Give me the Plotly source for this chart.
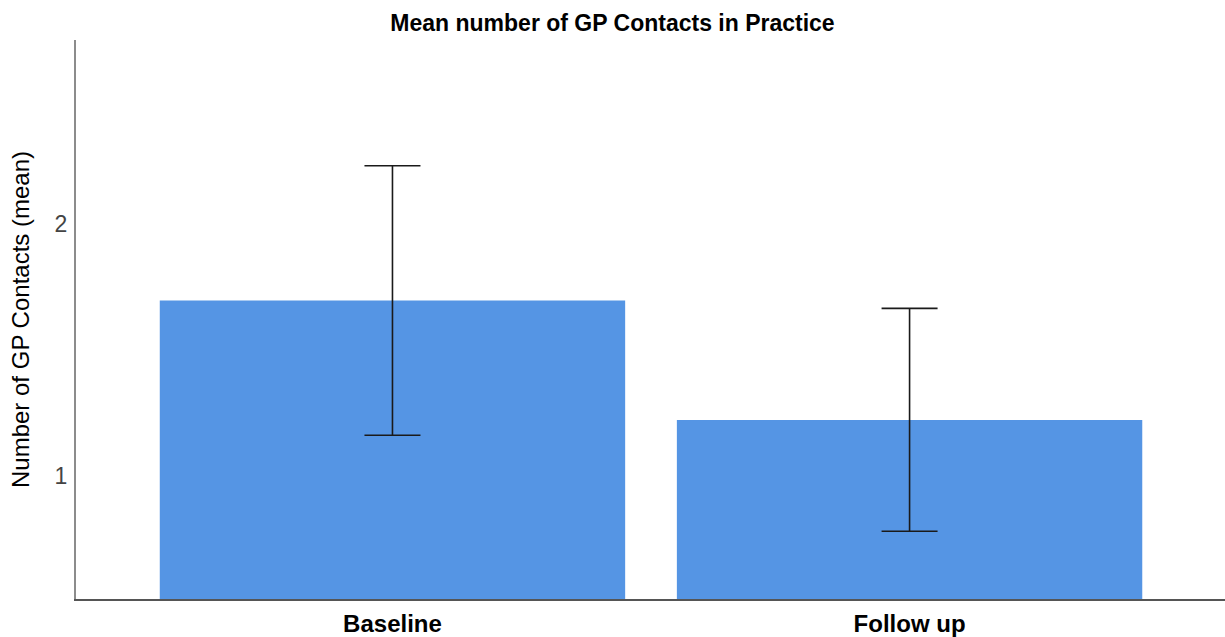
import plotly.graph_objects as go

# Mean GP contacts with 95% confidence limits
categories = ["Baseline", "Follow up"]
means = [1.696, 1.222]
ci_upper = [2.231, 1.665]
ci_lower = [1.162, 0.781]
y_ticks = [1, 2]

err_plus = [u - m for u, m in zip(ci_upper, means)]
err_minus = [m - l for m, l in zip(means, ci_lower)]

BAR_BLUE = "#5595E4"
FONT = "Liberation Sans, Arial, sans-serif"

fig = go.Figure(
    go.Bar(
        x=categories,
        y=means,
        marker=dict(color=BAR_BLUE, line=dict(width=0)),
        error_y=dict(
            type="data",
            symmetric=False,
            array=err_plus,
            arrayminus=err_minus,
            color="#1a1a1a",
            thickness=1.6,
            width=28,
        ),
        hoverinfo="skip",
    )
)

fig.update_layout(
    width=1225,
    height=637,
    margin=dict(l=76, r=0, t=40, b=38),
    paper_bgcolor="white",
    plot_bgcolor="white",
    bargap=0.1,
    showlegend=False,
    title=dict(
        text="<b>Mean number of GP Contacts in Practice</b>",
        x=0.5,
        xref="container",
        xanchor="center",
        y=1 - 23 / 637,
        yref="container",
        yanchor="middle",
        font=dict(family=FONT, size=23, color="#000000"),
    ),
    font=dict(family=FONT),
)

fig.update_xaxes(
    range=[-0.612, 1.61],
    showgrid=False,
    zeroline=False,
    showline=True,
    linecolor="#555555",
    linewidth=2,
    ticks="",
    tickfont=dict(family=FONT, size=24, color="#000000"),
    ticklabelstandoff=2,
    tickprefix="<b>",
    ticksuffix="</b>",
)

fig.update_yaxes(
    range=[0.512, 2.73],
    tickvals=y_ticks,
    ticktext=[str(v) for v in y_ticks],
    showgrid=False,
    zeroline=False,
    showline=True,
    linecolor="#8c8c8c",
    linewidth=2,
    ticks="",
    ticklabelstandoff=2,
    tickfont=dict(family=FONT, size=23, color="#444444"),
    title=dict(
        text="Number of GP Contacts (mean)",
        font=dict(family=FONT, size=24, color="#000000"),
        standoff=18,
    ),
)

fig.write_html("out.html")
